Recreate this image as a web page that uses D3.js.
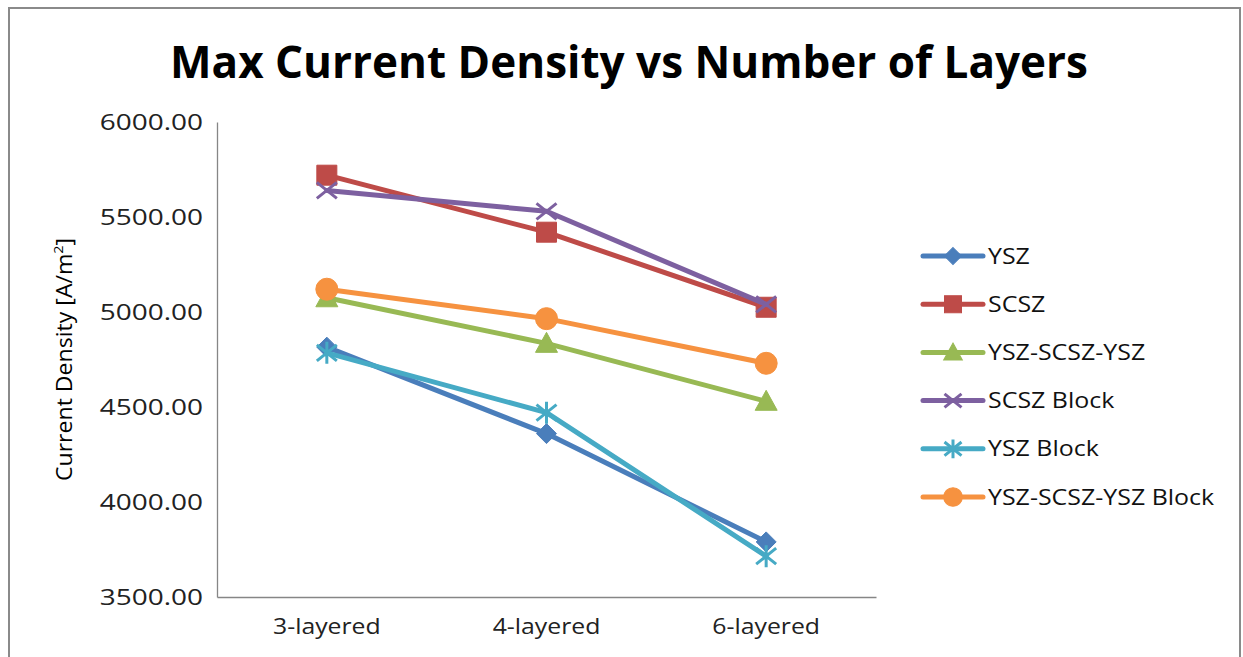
<!DOCTYPE html>
<html>
<head>
<meta charset="utf-8">
<script src="https://cdn.jsdelivr.net/npm/d3@7"></script>
<style>
  html, body { margin: 0; padding: 0; background: #fff; }
  svg { display: block; }
</style>
</head>
<body>
<svg id="chart" width="1243" height="657"></svg>
<script>
// Layer configurations along the x axis
const categories = ["3-layered", "4-layered", "6-layered"];

// Maximum current density per electrolyte build [A/m²]
const ysz            = [4815, 4360, 3790];
const scsz           = [5720, 5420, 5025];
const yszScszYsz     = [5075, 4835, 4530];
const scszBlock      = [5640, 5530, 5040];
const yszBlock       = [4785, 4470, 3715];
const yszScszYszBlk  = [5120, 4965, 4730];

const seriesNames = ["YSZ", "SCSZ", "YSZ-SCSZ-YSZ", "SCSZ Block", "YSZ Block", "YSZ-SCSZ-YSZ Block"];
const seriesValues = [ysz, scsz, yszScszYsz, scszBlock, yszBlock, yszScszYszBlk];

const yTicks = [3500, 4000, 4500, 5000, 5500, 6000];

const colors  = ["#4A7EBB", "#BE4B48", "#98B954", "#7D60A0", "#46AAC5", "#F69240"];
const markers = ["diamond", "square", "triangle", "x", "star", "circle"];

const svg = d3.select("#chart");
const plot = { left: 217, right: 876, top: 122, bottom: 597 };

// stretch text horizontally by a factor of its natural width
function stretch(sel, f) {
  sel.each(function () {
    const w = this.getComputedTextLength();
    d3.select(this).attr("textLength", w * f).attr("lengthAdjust", "spacingAndGlyphs");
  });
}

// chart frame
svg.append("rect")
  .attr("x", 9).attr("y", 8).attr("width", 1231).attr("height", 700)
  .attr("fill", "#fff").attr("stroke", "#8a8a8a").attr("stroke-width", 2);

// title
svg.append("text")
  .attr("x", 629).attr("y", 78)
  .attr("text-anchor", "middle")
  .attr("font-family", "Open Sans")
  .attr("font-weight", "bold")
  .attr("font-size", 45)
  .attr("fill", "#000")
  .attr("textLength", 918).attr("lengthAdjust", "spacingAndGlyphs")
  .text("Max Current Density vs Number of Layers");

const x = d3.scaleBand().domain(categories).range([plot.left, plot.right]);
const y = d3.scaleLinear().domain([3500, 6000]).range([plot.bottom, plot.top]);

// y axis
const yAxis = svg.append("g")
  .attr("transform", `translate(${plot.left},0)`)
  .call(d3.axisLeft(y).tickValues(yTicks).tickFormat(d3.format(".2f")).tickSize(0).tickPadding(14));
yAxis.select(".domain").attr("stroke", "#868686").attr("stroke-width", 1.3);
yAxis.selectAll("text")
  .attr("font-family", "Open Sans").attr("font-size", 22).attr("fill", "#222");
stretch(yAxis.selectAll("text"), 1.27);

// x axis
const xAxis = svg.append("g")
  .attr("transform", `translate(0,${plot.bottom})`)
  .call(d3.axisBottom(x).tickSize(0).tickPadding(22));
xAxis.select(".domain").attr("stroke", "#868686").attr("stroke-width", 1.3);
xAxis.selectAll("text")
  .attr("font-family", "Open Sans").attr("font-size", 21).attr("fill", "#222");
stretch(xAxis.selectAll("text"), 1.18);

// y axis title
const yTitle = svg.append("text")
  .attr("transform", `translate(72,${(plot.top + plot.bottom) / 2}) rotate(-90) scale(1.1,1)`)
  .attr("text-anchor", "middle")
  .attr("font-family", "Open Sans")
  .attr("font-size", 21)
  .attr("fill", "#000");
yTitle.append("tspan").text("Current Density [A/m");
yTitle.append("tspan").attr("baseline-shift", "super").attr("font-size", 13).text("2");
yTitle.append("tspan").text("]");

// marker shapes
function markerPath(type) {
  switch (type) {
    case "diamond":  return "M0,-10L10,0L0,10L-10,0Z";
    case "square":   return "M-10,-10H10V10H-10Z";
    case "triangle": return "M0,-11L11,9H-11Z";
    case "circle":   return d3.arc()({ innerRadius: 0, outerRadius: 11, startAngle: 0, endAngle: 2 * Math.PI });
    case "x":        return "M-10,-8L10,8M-10,8L10,-8";
    case "star":     return "M-10,-8L10,8M-10,8L10,-8M0,-11V11";
  }
}
function drawMarker(g, type, color, k) {
  const open = type === "x" || type === "star";
  g.append("path")
    .attr("d", markerPath(type))
    .attr("transform", `scale(${k})`)
    .attr("fill", open ? "none" : color)
    .attr("stroke", color)
    .attr("stroke-width", (open ? 3 : 1) / k);
}

const line = d3.line()
  .x((d, i) => x(categories[i]) + x.bandwidth() / 2)
  .y(d => y(d));

seriesValues.forEach((vals, s) => {
  const g = svg.append("g");
  g.append("path")
    .attr("d", line(vals))
    .attr("fill", "none")
    .attr("stroke", colors[s])
    .attr("stroke-width", 5)
    .attr("stroke-linejoin", "round")
    .attr("stroke-linecap", "round");
  vals.forEach((v, i) => {
    const m = g.append("g")
      .attr("transform", `translate(${x(categories[i]) + x.bandwidth() / 2},${y(v)})`);
    drawMarker(m, markers[s], colors[s], 1);
  });
});

// legend
const legend = svg.append("g");
seriesNames.forEach((name, s) => {
  const ly = 256 + s * 48.2;
  const row = legend.append("g");
  row.append("line")
    .attr("x1", 923).attr("x2", 983).attr("y1", ly).attr("y2", ly)
    .attr("stroke", colors[s]).attr("stroke-width", 5).attr("stroke-linecap", "round");
  const m = row.append("g").attr("transform", `translate(953,${ly})`);
  drawMarker(m, markers[s], colors[s], 0.85);
  const t = row.append("text")
    .attr("x", 988).attr("y", ly).attr("dy", "0.35em")
    .attr("font-family", "Open Sans").attr("font-size", 21.5).attr("fill", "#111")
    .text(name);
  stretch(t, 1.16);
});
</script>
</body>
</html>
